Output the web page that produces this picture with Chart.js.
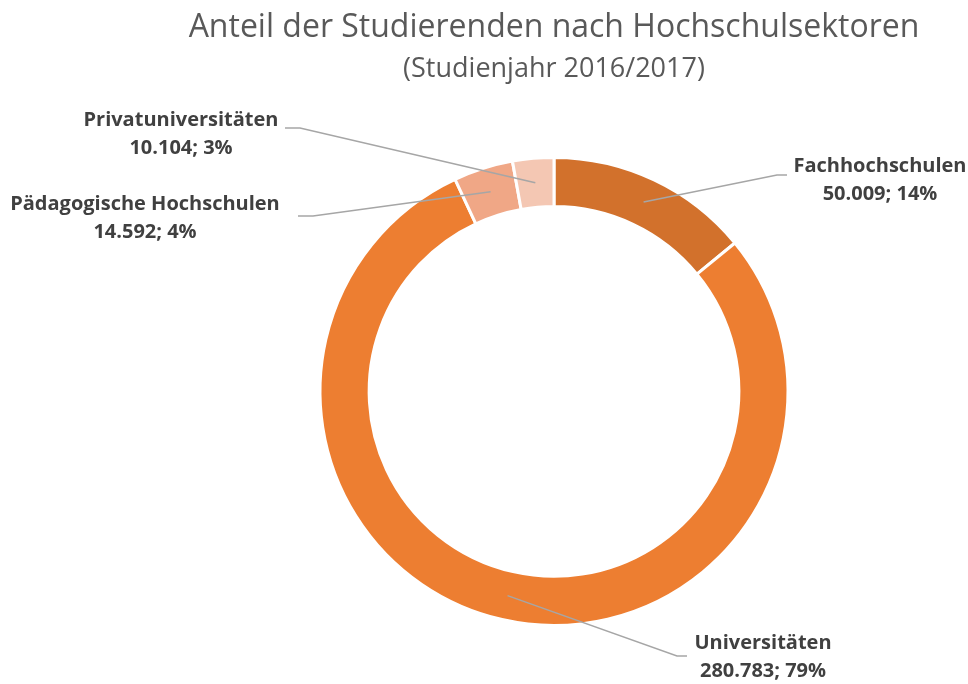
<!DOCTYPE html>
<html>
<head>
<meta charset="utf-8">
<script src="https://cdn.jsdelivr.net/npm/chart.js@4"></script>
<style>
  html, body { margin: 0; padding: 0; background: #fff; }
  #wrap { width: 968px; height: 684px; }
</style>
</head>
<body>
<div id="wrap"><canvas id="myChart" width="968" height="684"></canvas></div>
<script>
var sectors = ['Fachhochschulen', 'Universitäten', 'Pädagogische Hochschulen', 'Privatuniversitäten'];
var students = [50009, 280783, 14592, 10104];
var sectorColors = ['#D2712C', '#ED7E31', '#F0A786', '#F4C7B3'];

// where Excel put each data label: text centre x, first baseline y, elbow end of leader
var labelSpots = [
  {cx: 880, y: 172, ex: 777, ey: 175, hx: 787},
  {cx: 763, y: 649, ex: 677, ey: 656, hx: 687},
  {cx: 145, y: 210, ex: 313, ey: 216, hx: 298},
  {cx: 181, y: 126, ex: 300, ey: 128, hx: 285}
];

function fmt(n) {
  return String(n).replace(/\B(?=(\d{3})+(?!\d))/g, '.');
}

var leaderLabels = {
  id: 'leaderLabels',
  afterDatasetsDraw: function(chart) {
    var ctx = chart.ctx;
    var meta = chart.getDatasetMeta(0);
    var data = chart.data.datasets[0].data;
    var total = data.reduce(function(a, b) { return a + b; }, 0);
    ctx.save();
    meta.data.forEach(function(arc, i) {
      var p = arc.getProps(['x', 'y', 'startAngle', 'endAngle', 'innerRadius', 'outerRadius']);
      var mid = (p.startAngle + p.endAngle) / 2;
      var r = (p.innerRadius + p.outerRadius) / 2;
      var ax = p.x + Math.cos(mid) * r;
      var ay = p.y + Math.sin(mid) * r;
      var s = labelSpots[i];
      ctx.strokeStyle = '#A6A6A6';
      ctx.lineWidth = 1.5;
      ctx.beginPath();
      ctx.moveTo(ax, ay);
      ctx.lineTo(s.ex, s.ey);
      ctx.lineTo(s.hx, s.ey);
      ctx.stroke();

      ctx.fillStyle = '#404040';
      ctx.font = 'bold 20px "Open Sans"';
      ctx.textAlign = 'center';
      ctx.textBaseline = 'alphabetic';
      ctx.fillText(chart.data.labels[i], s.cx, s.y);
      var pct = Math.round(data[i] / total * 100);
      ctx.fillText(fmt(data[i]) + '; ' + pct + '%', s.cx, s.y + 28);
    });
    ctx.restore();
  }
};

var ctx = document.getElementById('myChart').getContext('2d');
var myChart = new Chart(ctx, {
  type: 'doughnut',
  data: {
    labels: sectors,
    datasets: [{
      data: students,
      backgroundColor: sectorColors,
      borderColor: '#ffffff',
      borderWidth: 3,
      hoverOffset: 0
    }]
  },
  options: {
    responsive: false,
    animation: false,
    radius: 234,
    cutout: '79%',
    layout: {padding: {left: 140, right: 0, top: 0, bottom: 0}},
    plugins: {
      legend: {display: false},
      tooltip: {enabled: false},
      title: {
        display: true,
        text: 'Anteil der Studierenden nach Hochschulsektoren',
        color: '#595959',
        font: {family: 'Open Sans', size: 32, weight: 'normal'},
        padding: {top: 9, bottom: 0}
      },
      subtitle: {
        display: true,
        text: '(Studienjahr 2016/2017)',
        color: '#595959',
        font: {family: 'Open Sans', size: 27, weight: 'normal'},
        padding: {top: 6, bottom: 13}
      }
    }
  },
  plugins: [leaderLabels]
});
</script>
</body>
</html>
